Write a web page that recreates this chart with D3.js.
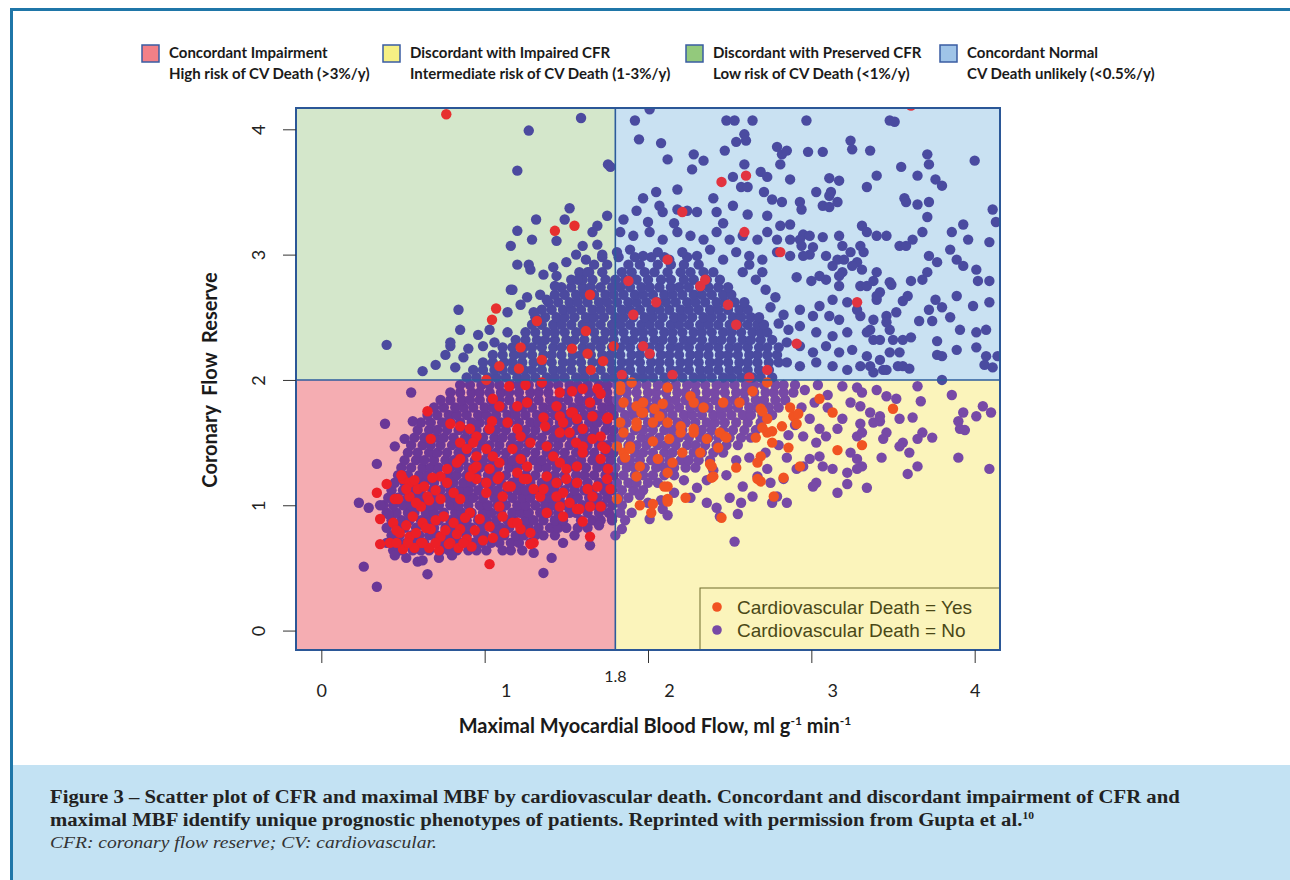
<!DOCTYPE html>
<html>
<head>
<meta charset="utf-8">
<title>CFR vs maximal MBF</title>
<script src="https://d3js.org/d3.v7.min.js"></script>
<style>
  body { margin: 0; background: #fff; }
</style>
</head>
<body>
<div id="chart"></div>
<script>
// axis ticks and thresholds
const xTicks = [0, 1, 2, 3, 4];
const yTicks = [0, 1, 2, 3, 4];
const mbfCut = 1.8;
const cfrCut = 2;

// legend text (pink, yellow, green, blue)
const zoneNames = [
  ["Concordant Impairment", "High risk of CV Death (>3%/y)"],
  ["Discordant with Impaired CFR", "Intermediate risk of CV Death (1-3%/y)"],
  ["Discordant with Preserved CFR", "Low risk of CV Death (<1%/y)"],
  ["Concordant Normal", "CV Death unlikely (<0.5%/y)"]
];
const deathLabels = ["Cardiovascular Death = Yes", "Cardiovascular Death = No"];

// CV death = No, dense part read row by row: [CFR, [MBF values]]
const noCore = [
  [0.64,[0.44,0.49,0.56,0.61,0.66,0.73,0.78,0.83,0.90,0.95,1.01,1.11,1.16,1.23]],
  [0.70,[0.40,0.47,0.52,0.58,0.63,0.70,0.75,0.81,0.86,0.93,0.98,1.04,1.09,1.16,1.21,1.28]],
  [0.76,[0.43,0.48,0.55,0.60,0.66,0.71,0.78,0.83,0.89,0.96,1.00,1.07,1.12,1.19,1.24,1.31,1.36,1.43]],
  [0.82,[0.40,0.46,0.51,0.58,0.64,0.69,0.76,0.81,0.87,0.92,0.98,1.05,1.10,1.15,1.22,1.27,1.33,1.40,1.45,1.50,1.57,1.63]],
  [0.88,[0.43,0.49,0.54,0.61,0.66,0.72,0.79,0.84,0.89,0.96,1.01,1.07,1.14,1.18,1.25,1.30,1.36,1.43,1.48,1.59,1.66,1.71,1.78]],
  [0.94,[0.40,0.46,0.53,0.57,0.64,0.69,0.75,0.82,0.86,0.92,0.99,1.04,1.10,1.17,1.22,1.27,1.34,1.39,1.45,1.52,1.56,1.63,1.70,1.76,1.83]],
  [1.00,[0.38,0.44,0.50,0.55,0.62,0.67,0.72,0.79,0.84,0.90,0.97,1.02,1.08,1.13,1.20,1.25,1.31,1.37,1.42,1.49,1.54,1.60,1.67,1.72,1.78,1.84]],
  [1.06,[0.41,0.47,0.53,0.59,0.64,0.70,0.77,0.82,0.88,0.93,0.99,1.06,1.11,1.17,1.23,1.28,1.35,1.40,1.46,1.53,1.57,1.64,1.69,1.75,1.82,1.88]],
  [1.12,[0.43,0.50,0.55,0.61,0.68,0.73,0.79,0.85,0.90,0.96,1.03,1.08,1.14,1.20,1.25,1.31,1.38,1.43,1.49,1.55,1.61,1.66,1.73,1.78,1.84,1.91,1.97]],
  [1.18,[0.45,0.51,0.58,0.63,0.69,0.76,0.81,0.87,0.92,0.99,1.04,1.10,1.17,1.22,1.28,1.35,1.40,1.45,1.52,1.57,1.63,1.70,1.75,1.81,1.88,1.93,2.00,2.06]],
  [1.24,[0.47,0.53,0.60,0.65,0.71,0.78,0.83,0.89,0.95,1.02,1.07,1.13,1.20,1.25,1.31,1.38,1.43,1.49,1.56,1.61,1.67,1.74,1.79,1.85,1.92,1.97,2.03,2.10,2.16]],
  [1.30,[0.49,0.55,0.62,0.67,0.72,0.79,0.84,0.90,0.97,1.02,1.08,1.15,1.20,1.26,1.33,1.38,1.44,1.51,1.56,1.62,1.69,1.74,1.80,1.87,1.92,1.98,2.05,2.10,2.16,2.23,2.29]],
  [1.36,[0.51,0.58,0.63,0.69,0.76,0.81,0.87,0.94,0.99,1.05,1.12,1.17,1.23,1.30,1.35,1.41,1.48,1.53,1.59,1.66,1.71,1.77,1.84,1.89,1.95,2.02,2.07,2.13,2.20,2.25,2.31,2.38]],
  [1.42,[0.53,0.59,0.66,0.71,0.77,0.84,0.89,0.95,1.02,1.07,1.13,1.20,1.25,1.31,1.38,1.43,1.49,1.56,1.61,1.67,1.74,1.79,1.85,1.92,1.97,2.03,2.10,2.15,2.21,2.28,2.33,2.40,2.46]],
  [1.48,[0.55,0.62,0.67,0.73,0.80,0.85,0.91,0.98,1.03,1.09,1.16,1.21,1.27,1.34,1.39,1.45,1.52,1.57,1.63,1.70,1.75,1.81,1.88,1.93,1.99,2.06,2.11,2.17,2.24,2.29,2.35,2.42,2.48,2.55]],
  [1.54,[0.57,0.63,0.70,0.75,0.81,0.88,0.93,0.99,1.06,1.11,1.17,1.24,1.29,1.35,1.42,1.47,1.53,1.60,1.65,1.71,1.78,1.83,1.89,1.96,2.01,2.07,2.14,2.19,2.25,2.32,2.37,2.43,2.50,2.57,2.63]],
  [1.60,[0.59,0.66,0.71,0.77,0.84,0.89,0.95,1.02,1.07,1.13,1.20,1.25,1.31,1.38,1.43,1.49,1.56,1.61,1.67,1.74,1.79,1.85,1.92,1.97,2.03,2.10,2.15,2.21,2.28,2.33,2.39,2.46,2.52,2.59,2.66]],
  [1.66,[0.61,0.67,0.74,0.79,0.85,0.92,0.97,1.03,1.10,1.15,1.21,1.28,1.33,1.39,1.46,1.51,1.57,1.64,1.69,1.75,1.82,1.87,1.93,2.00,2.05,2.11,2.18,2.23,2.29,2.36,2.41,2.47,2.54,2.61,2.69]],
  [1.72,[0.65,0.71,0.78,0.83,0.89,0.96,1.01,1.07,1.14,1.19,1.25,1.32,1.37,1.43,1.50,1.55,1.61,1.68,1.73,1.79,1.86,1.91,1.97,2.04,2.09,2.15,2.22,2.27,2.33,2.40,2.45,2.51,2.58,2.63,2.70,2.76]],
  [1.78,[0.69,0.75,0.82,0.87,0.93,1.00,1.05,1.11,1.18,1.23,1.29,1.36,1.41,1.47,1.54,1.59,1.65,1.72,1.77,1.83,1.90,1.95,2.01,2.08,2.13,2.19,2.26,2.31,2.37,2.44,2.49,2.55,2.62,2.67,2.74,2.80]],
  [1.84,[0.73,0.79,0.86,0.91,0.97,1.04,1.09,1.15,1.22,1.27,1.33,1.40,1.45,1.51,1.58,1.63,1.69,1.76,1.81,1.87,1.94,1.99,2.05,2.12,2.17,2.23,2.30,2.35,2.41,2.48,2.53,2.59,2.66,2.71,2.78,2.84]],
  [1.90,[0.79,0.85,0.92,0.97,1.03,1.10,1.15,1.21,1.28,1.33,1.39,1.46,1.51,1.57,1.64,1.69,1.75,1.82,1.87,1.93,2.00,2.05,2.11,2.18,2.23,2.29,2.36,2.41,2.47,2.54,2.59,2.65,2.72,2.77,2.83,2.89]],
  [1.96,[0.85,0.91,0.98,1.03,1.09,1.16,1.21,1.27,1.34,1.39,1.45,1.52,1.57,1.63,1.70,1.75,1.81,1.88,1.93,1.99,2.06,2.11,2.17,2.24,2.29,2.35,2.42,2.47,2.53,2.60,2.65,2.71,2.78,2.83,2.90]],
  [2.02,[0.89,0.95,1.02,1.07,1.13,1.20,1.25,1.31,1.38,1.43,1.49,1.56,1.61,1.67,1.74,1.79,1.85,1.92,1.97,2.03,2.10,2.15,2.21,2.28,2.33,2.39,2.46,2.51,2.57,2.64,2.69,2.76]],
  [2.08,[0.93,0.99,1.06,1.11,1.17,1.24,1.29,1.35,1.42,1.47,1.53,1.60,1.65,1.71,1.78,1.83,1.89,1.96,2.01,2.07,2.14,2.19,2.25,2.32,2.37,2.43,2.50,2.55,2.61,2.68,2.74]],
  [2.14,[0.99,1.05,1.12,1.17,1.23,1.30,1.35,1.41,1.48,1.53,1.59,1.66,1.71,1.77,1.84,1.89,1.95,2.02,2.07,2.13,2.20,2.25,2.31,2.38,2.43,2.49,2.56,2.61,2.67,2.74,2.80]],
  [2.20,[1.05,1.11,1.18,1.23,1.29,1.36,1.41,1.47,1.54,1.59,1.65,1.72,1.77,1.83,1.90,1.95,2.01,2.08,2.13,2.19,2.26,2.31,2.37,2.44,2.49,2.55,2.62,2.67,2.73,2.79]],
  [2.26,[1.11,1.17,1.24,1.29,1.35,1.42,1.47,1.53,1.60,1.65,1.71,1.78,1.83,1.89,1.96,2.01,2.07,2.14,2.19,2.25,2.32,2.37,2.43,2.50,2.55,2.61,2.68,2.73,2.80]],
  [2.32,[1.19,1.25,1.32,1.37,1.43,1.50,1.55,1.61,1.68,1.73,1.79,1.86,1.91,1.97,2.04,2.09,2.15,2.22,2.27,2.33,2.40,2.45,2.51,2.58,2.63,2.69,2.76]],
  [2.38,[1.25,1.31,1.38,1.43,1.49,1.56,1.61,1.67,1.74,1.79,1.85,1.92,1.97,2.03,2.10,2.15,2.21,2.28,2.33,2.39,2.46,2.51,2.57,2.64,2.69,2.73]],
  [2.44,[1.29,1.35,1.42,1.47,1.53,1.60,1.65,1.71,1.78,1.83,1.89,1.96,2.01,2.07,2.14,2.19,2.25,2.32,2.37,2.43,2.50,2.55,2.61,2.67,2.71]],
  [2.50,[1.31,1.37,1.44,1.49,1.55,1.62,1.67,1.73,1.80,1.85,1.91,1.98,2.03,2.09,2.16,2.21,2.27,2.34,2.39,2.45,2.52,2.57,2.63,2.68]],
  [2.56,[1.35,1.41,1.48,1.53,1.59,1.66,1.71,1.77,1.84,1.89,1.95,2.02,2.07,2.13,2.20,2.25,2.31,2.38,2.43,2.49,2.56,2.61]],
  [2.62,[1.39,1.45,1.52,1.57,1.63,1.70,1.75,1.81,1.88,1.93,1.99,2.06,2.11,2.17,2.24,2.29,2.35,2.42,2.47,2.53,2.59]],
  [2.68,[1.43,1.49,1.56,1.61,1.67,1.74,1.79,1.85,1.92,1.97,2.03,2.10,2.15,2.21,2.28,2.33,2.39,2.46,2.51]],
  [2.74,[1.47,1.53,1.60,1.65,1.71,1.78,1.83,1.89,1.96,2.01,2.07,2.14,2.19,2.25,2.32,2.37,2.43,2.49]],
  [2.80,[1.53,1.60,1.66,1.74,1.80,1.86,1.93,2.00,2.08,2.14,2.22,2.28,2.36,2.44]],
  [2.86,[1.58,1.64,1.72,1.84,1.90,1.98,2.04,2.12,2.20,2.26,2.34,2.40]],
  [2.92,[1.67,1.75,1.88,1.95,2.06,2.14,2.22,2.31]],
  [2.98,[1.72,1.82,1.92,2.02,2.10,2.24]]
];

// CV death = No, scattered points [MBF, CFR]
const noPts = [
  [1.59,4.09],[1.27,3.99],[1.20,3.67],[1.755,3.72],[1.77,3.70],[1.52,3.37],[1.315,3.28],[1.49,3.28],[1.20,3.19],[1.29,3.12],
  [1.44,3.11],[1.16,3.07],[1.60,3.07],[1.66,3.18],[1.75,3.31],[1.69,3.23],[1.69,3.08],[1.72,3.00],[1.20,2.92],[1.27,2.92],
  [1.28,2.88],[1.42,2.90],[1.44,2.83],[1.63,2.86],[1.57,2.80],[1.16,2.72],[1.34,2.68],[1.38,2.64],[1.43,2.75],[0.84,2.56],
  [1.14,2.54],[1.30,2.54],[0.85,2.40],[0.96,2.36],[1.03,2.40],[1.14,2.38],[0.40,2.28],[0.79,2.27],[0.76,2.20],[0.87,2.18],
  [0.99,2.27],[0.62,2.07],[1.17,2.72],[0.79,2.30],[0.70,2.12],[0.82,2.10],[0.90,2.25],[1.06,2.30],[1.22,2.60],[1.26,2.66],
  [1.36,2.84],[1.50,2.94],[1.56,3.00],[1.62,2.96],
  [2.01,4.16],[1.92,4.07],[1.945,3.92],[2.08,3.89],[2.12,3.76],[2.28,3.80],[2.34,3.75],[2.27,3.68],[2.47,3.83],[2.48,4.07],
  [2.53,4.07],[2.64,4.07],[2.54,3.90],[2.59,3.96],[2.60,3.91],[2.59,3.72],[2.52,3.62],[2.57,3.54],[2.61,3.54],[2.69,3.66],
  [2.73,3.62],[2.71,3.50],[2.76,3.44],[2.82,3.42],[2.79,3.86],[2.82,3.80],[2.85,3.83],[2.81,3.72],[2.97,4.07],[2.98,3.82],
  [3.07,3.82],[3.03,3.50],[3.11,3.61],[3.17,3.59],[3.12,3.50],[3.07,3.39],[3.11,3.38],[3.16,3.42],[3.24,3.91],[3.25,3.84],
  [3.36,3.83],[3.48,4.07],[3.51,4.06],[3.34,3.54],[3.40,3.63],[3.55,3.70],[3.71,3.80],[3.72,3.72],[3.65,3.63],[3.76,3.60],
  [3.80,3.55],[4.00,3.75],[3.57,3.45],[3.58,3.42],[3.65,3.40],[3.72,3.42],[3.71,3.30],[4.11,3.36],[4.13,3.26],[2.93,3.42],
  [2.94,3.36],[3.31,3.23],[3.34,3.18],[3.07,3.14],[3.17,3.15],[2.95,3.16],[2.99,3.15],[3.40,3.15],[3.46,3.15],[3.54,3.07],
  [3.58,3.07],[3.62,3.12],[3.68,3.18],[3.86,3.18],[3.93,3.24],[3.96,3.12],[4.09,3.10],[3.85,3.04],[3.89,2.96],[3.93,2.91],
  [4.01,2.88],[4.02,2.79],[4.09,2.79],[3.72,2.99],[3.77,2.94],[3.68,2.80],[3.71,2.86],[3.61,2.79],[3.49,2.76],[3.56,2.63],
  [3.59,2.67],[3.76,2.64],[3.89,2.67],[3.99,2.59],[4.09,2.62],[3.72,2.56],[3.80,2.58],[3.85,2.50],[3.74,2.47],[3.66,2.47],
  [3.91,2.40],[4.01,2.38],[4.07,2.40],[3.89,2.24],[3.77,2.31],[3.77,2.20],[3.80,2.19],[4.01,2.26],[4.07,2.19],[4.14,2.19],
  [3.56,2.32],[3.61,2.34],[3.54,2.22],[3.48,2.40],[3.56,2.11],[3.60,2.09],[4.06,2.12],[4.11,2.10],[3.44,2.08],[3.36,2.11],
  [3.36,2.40],[3.38,2.32],[3.46,2.51],[3.40,2.64],[3.42,2.70],[3.30,2.75],[3.38,2.79],[3.19,2.86],[3.09,2.80],[3.17,2.75],
  [3.28,2.94],[3.32,3.02],[3.30,3.07],[3.24,3.02],[3.19,3.07],[3.16,2.96],[3.09,2.99],[3.01,3.06],[2.99,3.00],[2.93,3.12],
  [2.94,3.07],[2.91,2.82],[3.00,2.79],[3.05,2.83],[3.13,2.91],[3.17,2.83],[3.20,2.96],[3.25,2.91],[3.31,2.88],[3.40,2.86],
  [3.48,2.78],[3.34,2.75],[3.40,2.67],[3.13,2.64],[3.22,2.62],[3.28,2.56],[3.05,2.59],[3.11,2.51],[3.17,2.48],[2.93,2.56],
  [3.01,2.51],[3.30,2.51],[3.38,2.48],[3.46,2.46],[3.52,2.54],[2.93,2.43],[3.03,2.38],[3.13,2.35],[3.22,2.38],[3.34,2.38],
  [3.42,2.32],[3.50,2.32],[2.85,2.30],[2.93,2.27],[3.01,2.22],[3.09,2.27],[3.17,2.22],[3.25,2.24],[3.34,2.19],[3.42,2.16],
  [3.48,2.22],[2.85,2.14],[2.93,2.11],[3.03,2.14],[3.13,2.11],[3.22,2.08],[3.30,2.11],[3.38,2.06],[3.46,2.08],[3.53,2.11],
  [1.85,3.28],[1.93,3.35],[2.00,3.26],[2.07,3.39],[2.09,3.34],[2.18,3.36],[2.24,3.35],[2.30,3.34],[2.42,3.34],[2.52,3.39],
  [2.61,3.32],[2.73,3.31],[2.81,3.23],[2.87,3.24],[1.83,3.18],[1.91,3.15],[2.01,3.18],[2.09,3.12],[2.18,3.18],[2.26,3.15],
  [2.34,3.12],[2.42,3.18],[2.50,3.12],[2.58,3.15],[2.67,3.12],[2.73,3.18],[2.79,3.12],[2.87,3.12],[1.81,3.02],[1.89,3.04],
  [1.97,2.99],[2.06,3.02],[2.13,2.96],[2.21,3.02],[2.30,2.99],[2.38,3.04],[2.46,2.96],[2.54,3.02],[2.62,2.99],[2.70,2.96],
  [2.79,3.02],[2.87,2.99],[2.95,2.99],[2.18,3.52],[2.87,3.60],[3.11,3.47],[2.40,3.45],[2.05,3.50],[2.46,3.25],[2.16,3.25],
  [1.97,3.45],[2.58,2.86],[2.66,2.80],[2.72,2.72],[2.78,2.66],[2.62,2.92],[2.75,2.58],[2.83,2.52],[2.86,2.40],[2.80,2.45],
  [2.70,2.86],
  [3.19,1.95],[3.28,1.94],[3.31,1.90],[3.40,1.92],[3.46,1.87],[3.52,1.85],[3.65,1.95],[3.67,1.83],[3.80,2.00],[3.86,1.88],
  [3.93,1.74],[3.90,1.67],[3.91,1.61],[3.94,1.60],[4.01,1.71],[4.05,1.79],[4.10,1.74],[4.09,1.29],[3.90,1.38],[3.62,1.70],
  [3.54,1.69],[3.68,1.58],[3.65,1.53],[3.74,1.54],[3.56,1.50],[3.54,1.47],[3.60,1.42],[3.65,1.31],[3.59,1.25],[3.43,1.38],
  [3.38,1.66],[3.42,1.67],[3.28,1.55],[3.30,1.65],[3.31,1.58],[3.24,1.42],[3.28,1.37],[3.31,1.31],[3.28,1.29],[3.22,1.26],
  [3.34,1.14],[3.22,1.17],[3.16,1.10],[3.03,1.18],[3.01,1.15],[3.13,1.29],[3.07,1.31],[2.99,1.37],[3.05,1.39],[2.85,1.02],
  [2.76,1.02],[2.79,1.07],[2.75,1.18],[2.83,1.21],[2.67,1.23],[2.73,1.29],[2.58,1.15],[2.57,1.02],[2.55,0.93],[2.42,0.98],
  [2.44,0.91],[2.53,0.71],[2.64,1.07],[2.85,1.38],[2.91,1.29],[2.95,1.31],[3.46,1.58],[3.44,1.53],[3.24,1.82],[3.30,1.79],
  [3.36,1.74],[3.42,1.71],[3.19,1.69],[3.16,1.61],[3.09,1.55],[2.99,1.69],[3.05,1.61],[2.95,1.55],[3.03,1.50],[2.96,1.92],
  [3.04,1.96],[3.10,1.88],[3.02,1.82],[2.94,1.78],[3.10,1.78],[2.90,1.64],[2.86,1.56],[2.80,1.48],[2.72,1.42],[2.62,1.38],
  [2.54,1.36],[2.48,1.24],[2.40,1.28],[2.36,1.20],[2.30,1.14],[2.22,1.20],[2.16,1.10],[2.26,1.06],[2.08,1.04],[2.00,1.02],
  [1.95,1.08],[2.12,0.92],[2.01,0.89],[2.09,0.97],[1.86,0.88],[1.84,0.81],[1.90,0.94],[1.80,0.76],[2.50,1.06],[2.36,1.02],
  [0.55,1.90],[0.39,1.65],[0.56,1.67],[0.51,1.53],[0.45,1.47],[0.34,1.33],[0.23,1.02],[0.29,0.98],[0.36,1.00],[0.41,0.93],
  [0.26,0.51],[0.34,0.35],[0.59,0.55],[0.62,0.56],[0.65,0.45],[1.36,0.46],[1.41,0.58],[1.645,0.68],[1.55,0.76],[1.70,0.84],
  [1.78,0.90],[1.30,0.62],[1.48,0.70],[0.52,0.58],[0.72,0.58],[0.80,0.60],[0.45,0.60]
];

// CV death = Yes [MBF, CFR]
const yesPts = [
  [0.765,4.12],[1.55,3.23],[1.43,3.19],[1.645,2.68],[1.07,2.57],[1.045,2.48],[1.32,2.47],[1.62,2.39],[1.22,2.26],[1.535,2.25],
  [1.63,2.21],[1.725,2.15],[1.79,2.27],[1.35,2.16],[1.09,2.11],[1.21,2.09],[1.65,2.08],
  [2.21,3.34],[2.59,3.18],[2.81,3.02],[2.12,2.96],[1.88,2.79],[2.32,2.75],[2.35,2.80],[2.05,2.62],[2.49,2.60],[1.91,2.52],
  [2.54,2.44],[3.28,2.62],[2.91,2.29],[1.97,2.27],[2.01,2.21],[2.73,2.08],[2.62,2.02],[1.84,2.04],[2.15,2.04],[2.45,3.58],
  [2.60,3.63],[3.61,4.19],
  [1.01,2.00],[1.15,1.95],[1.25,1.96],[1.35,1.98],[1.46,1.90],[1.535,1.91],[1.60,1.93],[1.69,1.93],[1.71,1.89],[1.05,1.85],
  [1.09,1.79],[1.20,1.79],[1.26,1.82],[1.44,1.79],[1.46,1.71],[1.48,1.66],[1.54,1.74],[1.645,1.82],[1.66,1.71],[1.755,1.70],
  [0.65,1.75],[0.79,1.65],[0.85,1.63],[0.91,1.61],[0.95,1.55],[0.93,1.50],[1.045,1.67],[1.03,1.61],[1.14,1.66],[1.20,1.61],
  [1.22,1.55],[1.28,1.50],[1.36,1.70],[1.37,1.63],[0.67,1.53],[0.85,1.50],[0.89,1.45],[0.95,1.39],[0.85,1.37],[1.01,1.45],
  [1.05,1.39],[1.09,1.34],[1.17,1.45],[1.22,1.37],[1.26,1.31],[1.20,1.26],[1.38,1.47],[1.42,1.39],[1.46,1.34],[1.50,1.29],
  [1.52,1.58],[1.56,1.50],[1.60,1.47],[1.66,1.53],[1.72,1.47],[1.71,1.37],[1.755,1.29],[1.46,1.58],[1.53,1.74],[1.565,1.69],
  [1.60,1.61],[1.71,1.55],[1.74,1.45],[1.75,1.69],[1.60,1.42],[1.565,1.31],[1.50,1.21],
  [0.50,1.21],[0.54,1.18],[0.59,1.13],[0.65,1.07],[0.61,0.99],[0.54,1.07],[0.40,1.17],[0.34,1.10],[0.73,1.23],[0.77,1.18],
  [0.81,1.10],[0.85,1.05],[0.93,1.29],[0.95,1.21],[1.01,1.18],[1.01,1.10],[1.09,1.23],[1.14,1.15],[1.11,1.07],[1.09,0.99],
  [1.26,1.21],[1.30,1.13],[1.34,1.07],[1.38,1.23],[1.44,1.18],[1.48,1.10],[1.52,1.02],[1.565,1.18],[1.63,1.13],[1.66,1.07],
  [1.71,0.99],[1.75,1.21],[1.77,1.13],
  [0.36,0.89],[0.44,0.86],[0.48,0.78],[0.42,0.70],[0.36,0.69],[0.56,0.91],[0.62,0.86],[0.67,0.81],[0.73,0.75],[0.79,0.70],
  [0.54,0.75],[0.61,0.70],[0.50,0.65],[0.75,0.91],[0.81,0.86],[0.85,0.81],[0.89,0.73],[0.91,0.94],[0.97,0.89],[1.03,0.83],
  [1.11,0.91],[1.17,0.86],[1.22,0.81],[1.28,0.78],[1.30,0.70],[1.38,0.94],[1.46,0.99],[1.565,0.97],[1.645,0.75],[1.03,0.53],
  [1.28,0.69],[1.20,0.86],[0.45,1.05],[0.77,1.29],[0.83,1.34],[0.91,1.23],[0.95,1.31],[1.03,1.29],[1.08,1.21],[1.16,1.15],
  [1.24,1.21],[1.36,1.13],[1.44,1.07],[1.48,0.91],[1.69,1.15],[1.645,0.99],[1.58,0.97],[1.60,0.87],
  [0.49,1.24],[0.52,1.13],[0.57,1.20],[0.58,1.02],[0.63,1.15],[0.68,1.22],[0.70,1.12],[0.66,1.04],[0.47,1.05],[0.73,1.05],
  [0.46,0.80],[0.52,0.84],[0.58,0.78],[0.64,0.82],[0.70,0.88],[0.76,0.80],[0.83,0.77],[0.88,0.90],[0.94,0.80],[0.57,0.66],
  [0.66,0.66],[0.72,0.64],[0.84,0.66],[0.92,0.67],[0.99,0.72],[1.05,0.74],[1.12,0.78],[0.46,0.70],[0.53,0.70],[0.62,0.70],
  [0.70,0.70],[0.78,0.69],[0.87,0.70],
  [1.83,1.92],[1.90,1.98],[2.12,1.94],[1.85,1.82],[1.93,1.79],[1.97,1.74],[2.03,1.66],[2.12,1.66],[2.20,1.63],[1.83,1.66],
  [1.85,1.58],[1.93,1.63],[2.13,1.53],[2.20,1.58],[2.28,1.61],[2.36,1.53],[2.46,1.82],[2.56,1.82],[2.69,1.77],[2.73,1.69],
  [2.82,1.63],[2.89,1.71],[2.43,1.46],[2.47,1.55],[2.66,1.54],[2.73,1.58],[2.76,1.50],[2.86,1.46],[2.93,1.31],[2.83,1.22],
  [2.69,1.39],[2.67,1.34],[2.39,1.31],[2.40,1.23],[2.54,1.30],[2.21,1.42],[2.15,1.34],[2.12,1.26],[2.12,1.15],[1.95,1.31],
  [1.93,1.23],[1.85,1.42],[1.89,1.47],[2.04,1.77],[2.07,1.71],[2.32,1.42],[3.05,1.85],[3.13,1.74],[3.50,1.77],[3.31,1.48],
  [3.16,1.44],[2.64,1.91],[2.70,1.75],[2.73,1.98],[2.23,1.06],[2.03,1.01],[1.95,1.00],[2.12,1.05],[2.45,0.90],[2.77,1.07],
  [2.69,1.19],[1.81,1.05],[2.02,0.94],[2.03,1.51],[2.28,1.58],[2.44,1.58],[2.48,1.54],[2.70,1.62],[2.76,1.59],[2.91,1.65],
  [1.81,1.47],[1.89,1.45],[1.86,1.38],[2.06,1.37],[2.38,1.33],[2.39,1.22],[2.67,1.21],[2.10,1.15],[2.12,1.03],[2.26,1.87],
  [2.28,1.82],[2.34,1.78],[1.83,1.95],[1.97,1.82],[1.96,1.74],[2.09,1.81],[1.93,1.66],[2.87,1.78],[2.92,1.73]
];

const W = 1290, H = 880;
const SANS = "Lato, 'Open Sans', sans-serif";
const SERIF = "'Liberation Serif', 'DejaVu Serif', serif";

const svg = d3.select("#chart").append("svg")
    .attr("width", W)
    .attr("height", H)
    .style("font-family", SANS);

// page frame and caption band
svg.append("rect").attr("x", 12).attr("y", 765).attr("width", W - 12).attr("height", H - 765)
    .attr("fill", "#c3e2f3");
svg.append("path").attr("d", "M11.5,880 V9.5 H1290")
    .attr("fill", "none").attr("stroke", "#1f76a8").attr("stroke-width", 3);

// scales
const x = d3.scaleLinear().domain([-0.155, 4.155]).range([296, 1000]);
const y = d3.scaleLinear().domain([-0.155, 4.17]).range([650, 108]);

const x0 = x.range()[0], x1 = x.range()[1];
const yB = y.range()[0], yT = y.range()[1];

const bgCol = ["#f5adb2", "#fbf4bb", "#d4e7cb", "#c9e1f2"];
const boxCol = ["#f28087", "#f6f084", "#93c97c", "#9fc4e8"];
const noCol = ["#6a3797", "#7749a6", "#4c4a9f", "#4a4ba0"];
const yesCol = ["#ec1f27", "#f15322", "#e7302f", "#e2333f"];
const R = 5.2;

function zone(d) {
  if (d[0] < mbfCut) return d[1] < cfrCut ? 0 : 2;
  return d[1] < cfrCut ? 1 : 3;
}

// quadrant backgrounds
const quads = [
  {z: 0, xa: x0, xb: x(mbfCut), ya: y(cfrCut), yb: yB},
  {z: 1, xa: x(mbfCut), xb: x1, ya: y(cfrCut), yb: yB},
  {z: 2, xa: x0, xb: x(mbfCut), ya: yT, yb: y(cfrCut)},
  {z: 3, xa: x(mbfCut), xb: x1, ya: yT, yb: y(cfrCut)}
];
svg.append("g").selectAll("rect")
    .data(quads)
    .enter()
    .append("rect")
    .attr("x", d => d.xa).attr("y", d => d.ya)
    .attr("width", d => d.xb - d.xa).attr("height", d => d.yb - d.ya)
    .attr("fill", d => bgCol[d.z]);

svg.append("clipPath").attr("id", "plotclip")
  .append("rect").attr("x", x0).attr("y", yT).attr("width", x1 - x0).attr("height", yB - yT);

// flatten the row data
let noAll = [];
noCore.forEach(function(row) {
  row[1].forEach(function(v) { noAll.push([v, row[0]]); });
});
noAll = noAll.concat(noPts);

const dots = svg.append("g").attr("clip-path", "url(#plotclip)");
dots.selectAll("circle.no")
    .data(noAll)
    .enter()
    .append("circle")
    .attr("class", "no")
    .attr("cx", d => x(d[0]))
    .attr("cy", d => y(d[1]))
    .attr("r", R)
    .attr("fill", d => noCol[zone(d)]);

dots.selectAll("circle.yes")
    .data(yesPts)
    .enter()
    .append("circle")
    .attr("class", "yes")
    .attr("cx", d => x(d[0]))
    .attr("cy", d => y(d[1]))
    .attr("r", R)
    .attr("fill", d => yesCol[zone(d)]);

// threshold lines
svg.append("line").attr("x1", x(mbfCut)).attr("x2", x(mbfCut)).attr("y1", yT).attr("y2", yB)
    .attr("stroke", "#2d5c9c").attr("stroke-width", 1.6);
svg.append("line").attr("x1", x0).attr("x2", x1).attr("y1", y(cfrCut)).attr("y2", y(cfrCut))
    .attr("stroke", "#2d5c9c").attr("stroke-width", 1.6);

// inner legend (CV death)
const lg = svg.append("g");
lg.append("rect").attr("x", 700).attr("y", 588).attr("width", x1 - 700).attr("height", yB - 588)
    .attr("fill", "none").attr("stroke", "#6e6b2c").attr("stroke-width", 1);
lg.selectAll("g.it")
    .data(deathLabels)
    .enter()
    .append("g")
    .attr("class", "it")
    .attr("transform", (d, i) => "translate(717," + (607 + i * 23) + ")")
    .each(function(d, i) {
      const g = d3.select(this);
      g.append("circle").attr("r", 4.8).attr("fill", i === 0 ? yesCol[1] : noCol[1]);
      g.append("text").attr("x", 20).attr("y", 7)
        .style("font-family", "'Liberation Sans', Arial, sans-serif")
        .attr("font-size", "19px").attr("fill", "#4a4817").text(d);
    });

// plot border
svg.append("rect").attr("x", x0).attr("y", yT).attr("width", x1 - x0).attr("height", yB - yT)
    .attr("fill", "none").attr("stroke", "#2b5797").attr("stroke-width", 2);

// axes
const xAxis = d3.axisBottom(x).tickValues(xTicks).tickFormat(d3.format("d")).tickSize(13).tickSizeOuter(0);
const gx = svg.append("g").attr("transform", "translate(0," + yB + ")").call(xAxis);
gx.select(".domain").remove();
gx.selectAll(".tick line").attr("stroke", "#333");
gx.selectAll(".tick text")
    .attr("y", 47).attr("dy", 0)
    .attr("dx", d => (d > 0 && d < 4) ? 21 : 0)
    .attr("font-size", "18px").attr("fill", "#222")
    .style("font-family", SANS);
svg.append("text").attr("x", x(mbfCut)).attr("y", 682)
    .attr("text-anchor", "middle").attr("font-size", "16px").attr("fill", "#222")
    .text(String(mbfCut));

const yAxis = d3.axisLeft(y).tickValues(yTicks).tickFormat(d3.format("d")).tickSize(13).tickSizeOuter(0);
const gy = svg.append("g").attr("transform", "translate(" + x0 + ",0)").call(yAxis);
gy.select(".domain").remove();
gy.selectAll(".tick line").attr("stroke", "#333");
gy.selectAll(".tick text")
    .attr("x", 0).attr("y", -31).attr("dy", 0)
    .attr("transform", "rotate(-90)")
    .style("text-anchor", "middle")
    .attr("font-size", "18px").attr("fill", "#222")
    .style("font-family", SANS);

// axis titles
const xt = svg.append("text").attr("x", 655).attr("y", 733)
    .attr("text-anchor", "middle").attr("font-size", "20px").attr("font-weight", "bold").attr("fill", "#1a1a1a");
xt.append("tspan").text("Maximal Myocardial Blood Flow, ml g");
xt.append("tspan").attr("dy", -8).attr("font-size", "12px").text("-1");
xt.append("tspan").attr("dy", 8).text(" min");
xt.append("tspan").attr("dy", -8).attr("font-size", "12px").text("-1");

svg.append("text")
    .attr("transform", "translate(217," + y(cfrCut) + ") rotate(-90)")
    .attr("text-anchor", "middle").attr("font-size", "20px").attr("font-weight", "bold").attr("fill", "#1a1a1a")
    .style("white-space", "pre")
    .text("Coronary  Flow  Reserve");

// top legend
const legX = [142, 383, 686, 940];
const tl = svg.append("g").selectAll("g")
    .data(zoneNames)
    .enter()
    .append("g")
    .attr("transform", (d, i) => "translate(" + legX[i] + ",45)");
tl.append("rect").attr("width", 17).attr("height", 17)
    .attr("fill", (d, i) => boxCol[i]).attr("stroke", "#3a5ca2").attr("stroke-width", 1.5);
tl.append("text").attr("x", 27).attr("y", 13)
    .attr("font-size", "15px").attr("font-weight", "bold").attr("fill", "#1a1a1a").text(d => d[0]);
tl.append("text").attr("x", 27).attr("y", 34)
    .attr("font-size", "15px").attr("font-weight", "bold").attr("fill", "#1a1a1a").text(d => d[1]);

// caption
const cap = svg.append("g").attr("transform", "translate(50,0)");
const c1 = cap.append("text").attr("x", 0).attr("y", 803)
    .style("font-family", SERIF)
    .attr("font-size", "18px").attr("font-weight", "bold").attr("fill", "#222")
    .text("Figure 3 \u2013 Scatter plot of CFR and maximal MBF by cardiovascular death. Concordant and discordant impairment of CFR and");
const c2 = cap.append("text").attr("x", 0).attr("y", 826)
    .style("font-family", SERIF)
    .attr("font-size", "18px").attr("font-weight", "bold").attr("fill", "#222");
c2.append("tspan").text("maximal MBF identify unique prognostic phenotypes of patients. Reprinted with permission from Gupta et al.");
c2.append("tspan").attr("dy", -7).attr("font-size", "10px").text("10");
cap.append("text").attr("x", 0).attr("y", 848)
    .style("font-family", SERIF)
    .attr("font-size", "17px").attr("font-style", "italic").attr("fill", "#333")
    .text("CFR: coronary flow reserve; CV: cardiovascular.");
const k = 1130 / c1.node().getComputedTextLength();
cap.attr("transform", "translate(50,0) scale(" + k + ",1)");
</script>
</body>
</html>
